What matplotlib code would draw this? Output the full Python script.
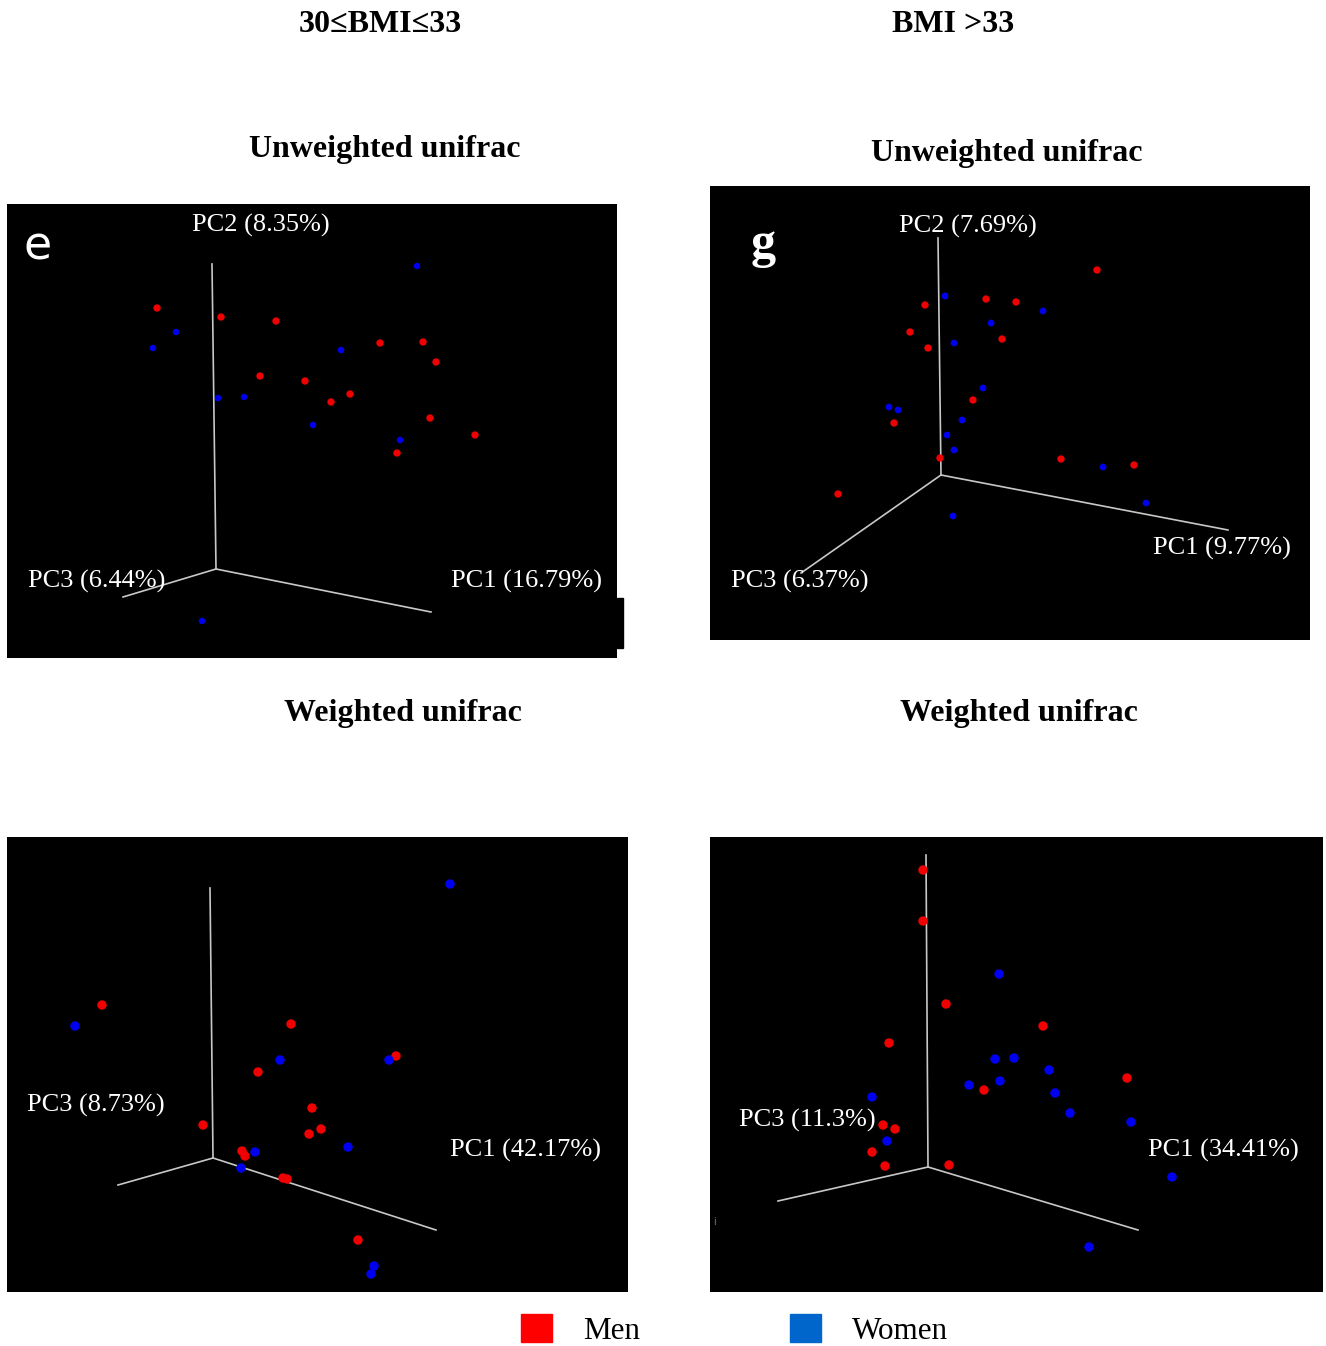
import matplotlib
matplotlib.use("Agg")
import matplotlib.pyplot as plt
from matplotlib.patches import Patch, Rectangle

W, H = 1326, 1346

# projected sample positions read off each 3D PCoA view (image pixels)
# e : 30<=BMI<=33, unweighted unifrac
e_men_x = [157, 221, 276, 380, 423, 436, 260, 305, 350, 331, 430, 475, 397]
e_men_y = [308, 317, 321, 343, 342, 362, 376, 381, 394, 402, 418, 435, 453]
e_women_x = [176, 153, 341, 417, 218, 244, 313, 400, 202]
e_women_y = [332, 348, 350, 266, 398, 397, 425, 440, 621]

# g : BMI>33, unweighted unifrac
g_men_x = [1097, 986, 1016, 925, 910, 928, 1002, 973, 894, 940, 1061, 1134, 838]
g_men_y = [270, 299, 302, 305, 332, 348, 339, 400, 423, 458, 459, 465, 494]
g_women_x = [945, 1043, 991, 954, 983, 889, 898, 962, 947, 954, 1103, 1146, 953]
g_women_y = [296, 311, 323, 343, 388, 407, 410, 420, 435, 450, 467, 503, 516]

# 30<=BMI<=33, weighted unifrac
wl_men_x = [102, 291, 258, 396, 312, 321, 309, 203, 242, 245, 283, 287, 358]
wl_men_y = [1005, 1024, 1072, 1056, 1108, 1129, 1134, 1125, 1151, 1156, 1178, 1179, 1240]
wl_women_x = [450, 75, 280, 389, 348, 255, 241, 374, 371]
wl_women_y = [884, 1026, 1060, 1060, 1147, 1152, 1168, 1266, 1274]

# BMI>33, weighted unifrac
wr_men_x = [923, 923, 946, 1043, 889, 984, 1127, 883, 895, 872, 885, 949]
wr_men_y = [870, 921, 1004, 1026, 1043, 1090, 1078, 1125, 1129, 1152, 1166, 1165]
wr_women_x = [999, 995, 1014, 1049, 1000, 969, 1055, 1070, 1131, 872, 887, 1172, 1089]
wr_women_y = [974, 1059, 1058, 1070, 1081, 1085, 1093, 1113, 1122, 1097, 1141, 1177, 1247]

# projected PC axes: origin, PC1 end, PC2 end, PC3 end
e_axes = [(216, 569), (431, 612), (212, 264), (123, 597)]
g_axes = [(941, 475), (1228, 530), (938, 238), (801, 573)]
wl_axes = [(213, 1158), (436, 1230), (210, 888), (118, 1185)]
wr_axes = [(928, 1167), (1138, 1230), (926, 855), (778, 1201)]

e_labels = [("PC2 (8.35%)", 261, 222), ("PC3 (6.44%)", 97, 578), ("PC1 (16.79%)", 527, 578)]
g_labels = [("PC2 (7.69%)", 968, 223), ("PC1 (9.77%)", 1222, 545), ("PC3 (6.37%)", 800, 578)]
wl_labels = [("PC3 (8.73%)", 96, 1102), ("PC1 (42.17%)", 526, 1147)]
wr_labels = [("PC3 (11.3%)", 807, 1117), ("PC1 (34.41%)", 1223, 1147)]

MEN = '#f00000'
WOMEN = '#0000f0'
SERIF = 'Liberation Serif'

fig = plt.figure(figsize=(W / 100, H / 100), dpi=100)


def panel(box, men, women, pcs, labels, msize_m, msize_w):
    x0, y0, x1, y1 = box
    ax = fig.add_axes([x0 / W, 1 - y1 / H, (x1 - x0) / W, (y1 - y0) / H])
    ax.set_facecolor('black')
    ax.set_xlim(x0, x1)
    ax.set_ylim(y1, y0)
    ax.set_xticks([])
    ax.set_yticks([])
    for s in ax.spines.values():
        s.set_visible(False)
    o = pcs[0]
    for end in pcs[1:]:
        ax.plot([o[0], end[0]], [o[1], end[1]], color='#c8c8c8', lw=1.2)
    ax.scatter(men[0], men[1], s=msize_m, color=MEN, edgecolors='none', zorder=3)
    ax.scatter(women[0], women[1], s=msize_w, color=WOMEN, edgecolors='none', zorder=3)
    # label text sits a bit low relative to its box
    for txt, tx, ty in labels:
        ax.text(tx, ty + 3, txt, color='white', fontsize=19, family=SERIF,
                ha='center', va='center')
    return ax


ax_e = panel((7, 204, 617, 658), (e_men_x, e_men_y), (e_women_x, e_women_y),
             e_axes, e_labels, 28, 22)
ax_e.text(38, 260, 'e', color='white', fontsize=33, family='DejaVu Sans',
          ha='center', va='baseline')
# small black notch on the right of panel e
fig.patches.append(Rectangle((617 / W, 1 - 648 / H), 6 / W, 50 / H,
                             transform=fig.transFigure, color='black'))

ax_g = panel((710, 186, 1310, 640), (g_men_x, g_men_y), (g_women_x, g_women_y),
             g_axes, g_labels, 28, 24)
ax_g.text(763, 257, 'g', color='white', fontsize=36, family=SERIF,
          fontweight='bold', ha='center', va='baseline')

panel((7, 837, 628, 1292), (wl_men_x, wl_men_y), (wl_women_x, wl_women_y),
      wl_axes, wl_labels, 46, 46)
ax_wr = panel((710, 837, 1323, 1292), (wr_men_x, wr_men_y), (wr_women_x, wr_women_y),
              wr_axes, wr_labels, 46, 46)
ax_wr.text(715, 1222, 'i', color='#777777', fontsize=7, ha='center', va='center')


def ftext(x, y, s, **kw):
    fig.text(x / W, 1 - (y + 3) / H, s, ha='center', va='center', family=SERIF, **kw)


ftext(380, 22, '30≤BMI≤33', fontsize=23, fontweight='bold')
ftext(953, 22, 'BMI >33', fontsize=23, fontweight='bold')
ftext(385, 147, 'Unweighted unifrac', fontsize=23, fontweight='bold')
ftext(1007, 150, 'Unweighted unifrac', fontsize=23, fontweight='bold')
ftext(403, 711, 'Weighted unifrac', fontsize=23, fontweight='bold')
ftext(1019, 711, 'Weighted unifrac', fontsize=23, fontweight='bold')

handles = [Patch(color='#ff0000', label='Men'), Patch(color='#0066cc', label='Women')]
fig.legend(handles=handles, loc='center left', bbox_to_anchor=(521 / W, 1 - 1330 / H),
           ncol=2, frameon=False, prop={'family': SERIF, 'size': 22.4},
           handlelength=1.0, handleheight=1.0, handletextpad=1.0,
           columnspacing=4.8, borderpad=0, borderaxespad=0)

fig.savefig('out.png', dpi=100, facecolor='white')
